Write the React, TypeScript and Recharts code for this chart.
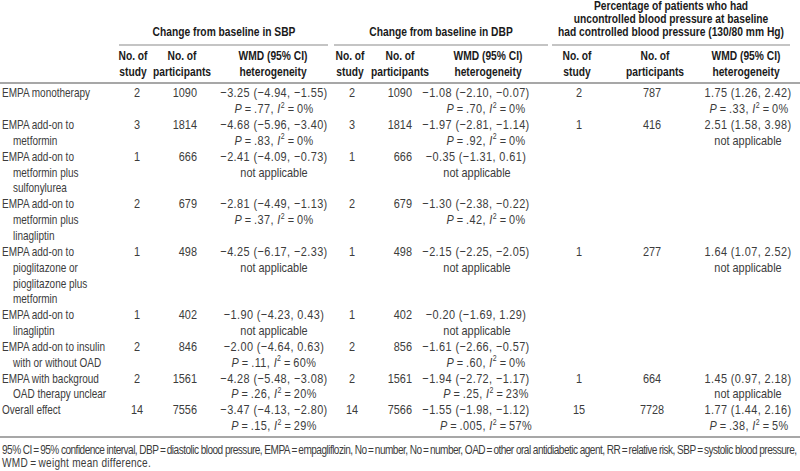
import React from "react";
import { ComposedChart, Customized } from "recharts";

// ---------- data ----------
const rowLabels: string[][] = [
  ["EMPA monotherapy"],
  ["EMPA add-on to", "metformin"],
  ["EMPA add-on to", "metformin plus", "sulfonylurea"],
  ["EMPA add-on to", "metformin plus", "linagliptin"],
  ["EMPA add-on to", "pioglitazone or", "pioglitazone plus", "metformin"],
  ["EMPA add-on to", "linagliptin"],
  ["EMPA add-on to insulin", "with or without OAD"],
  ["EMPA with backgroud", "OAD therapy unclear"],
  ["Overall effect"],
];

const sbpStudies = [2, 3, 1, 2, 1, 1, 2, 2, 14];
const sbpParticipants = [1090, 1814, 666, 679, 498, 402, 846, 1561, 7556];
const sbpEst = [-3.25, -4.68, -2.41, -2.81, -4.25, -1.9, -2.0, -4.28, -3.47];
const sbpLo = [-4.94, -5.96, -4.09, -4.49, -6.17, -4.23, -4.64, -5.48, -4.13];
const sbpHi = [-1.55, -3.4, -0.73, -1.13, -2.33, 0.43, 0.63, -3.08, -2.8];
const sbpP = [".77", ".83", null, ".37", null, null, ".11", ".26", ".15"];
const sbpI2 = [0, 0, null, 0, null, null, 60, 20, 29];

const dbpStudies = [2, 3, 1, 2, 1, 1, 2, 2, 14];
const dbpParticipants = [1090, 1814, 666, 679, 498, 402, 856, 1561, 7566];
const dbpEst = [-1.08, -1.97, -0.35, -1.3, -2.15, -0.2, -1.61, -1.94, -1.55];
const dbpLo = [-2.1, -2.81, -1.31, -2.38, -2.25, -1.69, -2.66, -2.72, -1.98];
const dbpHi = [-0.07, -1.14, 0.61, -0.22, -2.05, 1.29, -0.57, -1.17, -1.12];
const dbpP = [".70", ".92", null, ".42", null, null, ".60", ".25", ".005"];
const dbpI2 = [0, 0, null, 0, null, null, 0, 23, 57];

const ctrlStudies = [2, 1, null, null, 1, null, null, 1, 15];
const ctrlParticipants = [787, 416, null, null, 277, null, null, 664, 7728];
const ctrlEst = [1.75, 2.51, null, null, 1.64, null, null, 1.45, 1.77];
const ctrlLo = [1.26, 1.58, null, null, 1.07, null, null, 0.97, 1.44];
const ctrlHi = [2.42, 3.98, null, null, 2.52, null, null, 2.18, 2.16];
const ctrlP = [".33", null, null, null, null, null, null, null, ".38"];
const ctrlI2 = [0, null, null, null, null, null, null, null, 5];

const groupTitles: string[][] = [
  ["Change from baseline in SBP"],
  ["Change from baseline in DBP"],
  [
    "Percentage of patients who had",
    "uncontrolled blood pressure at baseline",
    "had controlled blood pressure (130/80 mm Hg)",
  ],
];
const colHeaders: string[][] = [
  ["No. of", "study"],
  ["No. of", "participants"],
  ["WMD (95% CI)", "heterogeneity"],
];
const footnotes = [
  "95% CI\u2009=\u200995% confidence interval, DBP\u2009=\u2009diastolic blood pressure, EMPA\u2009=\u2009empagliflozin, No\u2009=\u2009number, No\u2009=\u2009number, OAD\u2009=\u2009other oral antidiabetic agent, RR\u2009=\u2009relative risk, SBP\u2009=\u2009systolic blood pressure,",
  "WMD\u2009=\u2009weight mean difference.",
];

// ---------- layout ----------
const W = 800;
const H = 471;
const FONT = "'Liberation Sans', Arial, Helvetica, sans-serif";
const SX = 0.82; // horizontal condensing (Arial Narrow-like)
const FS = 12.5; // labels / headers
const NFS = 13.3; // numbers
const LINE = 15.85;
const FIRST_ROW = 97.3; // baseline of first body line
const DATA_COLOR = "#3c3c3c";
const HEAD_COLOR = "#1a1a1a";
const RULE = "#8a8a8a";

const fmt = (v: number) => {
  const s = Math.abs(v).toFixed(2);
  return v < 0 ? "\u2212" + s : s;
};
const wmd = (e: number, l: number, h: number) => `${fmt(e)} (${fmt(l)}, ${fmt(h)})`;

type TProps = {
  x: number;
  y: number;
  anchor?: "start" | "middle" | "end";
  bold?: boolean;
  size?: number;
  fill?: string;
  sx?: number;
  ls?: number;
  textLength?: number;
  children: React.ReactNode;
};
const T = ({ x, y, anchor = "start", bold, size = FS, fill = DATA_COLOR, sx = SX, ls, textLength, children }: TProps) => (
  <text
    transform={`translate(${x},${y}) scale(${sx},1)`}
    x={0}
    y={0}
    textAnchor={anchor}
    fontFamily={FONT}
    fontSize={size}
    fontWeight={bold ? "bold" : "normal"}
    fill={fill}
    letterSpacing={ls}
    textLength={textLength ? textLength / sx : undefined}
    lengthAdjust={textLength ? "spacing" : undefined}
  >
    {children}
  </text>
);

type Group = {
  studies: (number | null)[];
  parts: (number | null)[];
  est: (number | null)[];
  lo: (number | null)[];
  hi: (number | null)[];
  p: (string | null)[];
  i2: (number | null)[];
  xStudy: number;
  xPart: number;
  partAnchor: "end" | "middle";
  xWmd: number;
  xHet: number;
  xNA: number;
  hStudy: number;
  hPart: number;
  hWmd: number;
  rule: [number, number];
  titleX: number;
};

const groups: Group[] = [
  {
    studies: sbpStudies, parts: sbpParticipants, est: sbpEst, lo: sbpLo, hi: sbpHi, p: sbpP, i2: sbpI2,
    xStudy: 137, xPart: 197, partAnchor: "end", xWmd: 274, xHet: 274, xNA: 274,
    hStudy: 133, hPart: 182, hWmd: 273, rule: [119, 328], titleX: 224,
  },
  {
    studies: dbpStudies, parts: dbpParticipants, est: dbpEst, lo: dbpLo, hi: dbpHi, p: dbpP, i2: dbpI2,
    xStudy: 352, xPart: 412, partAnchor: "end", xWmd: 476, xHet: 486, xNA: 477,
    hStudy: 350, hPart: 400, hWmd: 488, rule: [334, 548], titleX: 441,
  },
  {
    studies: ctrlStudies, parts: ctrlParticipants, est: ctrlEst, lo: ctrlLo, hi: ctrlHi, p: ctrlP, i2: ctrlI2,
    xStudy: 579, xPart: 652, partAnchor: "middle", xWmd: 748, xHet: 749, xNA: 748,
    hStudy: 577, hPart: 655, hWmd: 746, rule: [552, 790], titleX: 671,
  },
];

const rowLineCounts = rowLabels.map((l) => Math.max(l.length, 2));
const rowY: number[] = [];
{
  let y = FIRST_ROW;
  rowLineCounts.forEach((c) => {
    rowY.push(y);
    y += c * LINE;
  });
}

const Het = ({ x, xNA, y, p, i2 }: { x: number; xNA: number; y: number; p: string | null; i2: number | null }) => {
  if (p === null || i2 === null) {
    return <T x={xNA} y={y} anchor="middle" size={NFS}>not applicable</T>;
  }
  return (
    <T x={x} y={y} anchor="middle" size={NFS} ls={0.5}>
      <tspan fontStyle="italic">P</tspan>
      <tspan>{`\u2009=\u2009${p}, `}</tspan>
      <tspan fontStyle="italic">I</tspan>
      <tspan dy={-5.5} fontSize={8.5}>2</tspan>
      <tspan dy={5.5}>{`\u2009=\u2009${i2}%`}</tspan>
    </T>
  );
};

const TableLayer = () => {
  const els: React.ReactNode[] = [];
  groups.forEach((g, gi) => {
    const lines = groupTitles[gi];
    lines.forEach((t, li) => {
      const y = 36 - (lines.length - 1 - li) * 13;
      els.push(
        <T key={`gt${gi}-${li}`} x={g.titleX} y={y} anchor="middle" bold fill={HEAD_COLOR}>{t}</T>
      );
    });
    els.push(<line key={`gr${gi}`} x1={g.rule[0]} x2={g.rule[1]} y1={45} y2={45} stroke={RULE} strokeWidth={1.2} />);
    const hx = [g.hStudy, g.hPart, g.hWmd];
    colHeaders.forEach((h, ci) => {
      h.forEach((t, li) => {
        els.push(
          <T key={`ch${gi}-${ci}-${li}`} x={hx[ci]} y={59.5 + li * 16} anchor="middle" bold fill={HEAD_COLOR}>{t}</T>
        );
      });
    });
  });
  els.push(<line key="hrule" x1={0} x2={W} y1={83} y2={83} stroke={RULE} strokeWidth={1.3} />);

  rowLabels.forEach((lab, ri) => {
    const y0 = rowY[ri];
    lab.forEach((t, li) => {
      els.push(<T key={`lab${ri}-${li}`} x={li === 0 ? 2 : 13} y={y0 + li * LINE} sx={0.8}>{t}</T>);
    });
    groups.forEach((g, gi) => {
      const s = g.studies[ri];
      if (s !== null) {
        els.push(<T key={`s${gi}-${ri}`} x={g.xStudy} y={y0} anchor="middle" size={NFS}>{s}</T>);
      }
      const p = g.parts[ri];
      if (p !== null) {
        els.push(<T key={`p${gi}-${ri}`} x={g.xPart} y={y0} anchor={g.partAnchor} size={NFS}>{p}</T>);
      }
      const e = g.est[ri];
      const lo = g.lo[ri];
      const hi = g.hi[ri];
      if (e !== null && lo !== null && hi !== null) {
        els.push(
          <T key={`w${gi}-${ri}`} x={g.xWmd} y={y0} anchor="middle" size={NFS} ls={0.5}>{wmd(e, lo, hi)}</T>
        );
        els.push(<Het key={`h${gi}-${ri}`} x={g.xHet} xNA={g.xNA} y={y0 + LINE} p={g.p[ri]} i2={g.i2[ri]} />);
      }
    });
  });

  els.push(<line key="brule" x1={0} x2={W} y1={437} y2={437} stroke={RULE} strokeWidth={1.6} />);
  els.push(
    <T key="fn0" x={2} y={454} size={12.3} textLength={795}>{footnotes[0]}</T>
  );
  els.push(<T key="fn1" x={2} y={467} size={12.3} ls={0.3}>{footnotes[1]}</T>);
  return <g>{els}</g>;
};

const tableData = rowLabels.map((l, i) => ({ name: l.join(" "), sbp: sbpEst[i], dbp: dbpEst[i] }));

export default function App() {
  return (
    <div style={{ position: "absolute", left: 0, top: 0, width: W, height: H, background: "#fff" }}>
      <ComposedChart width={W} height={H} data={tableData} margin={{ top: 0, right: 0, bottom: 0, left: 0 }}>
        <Customized component={TableLayer} />
      </ComposedChart>
    </div>
  );
}
